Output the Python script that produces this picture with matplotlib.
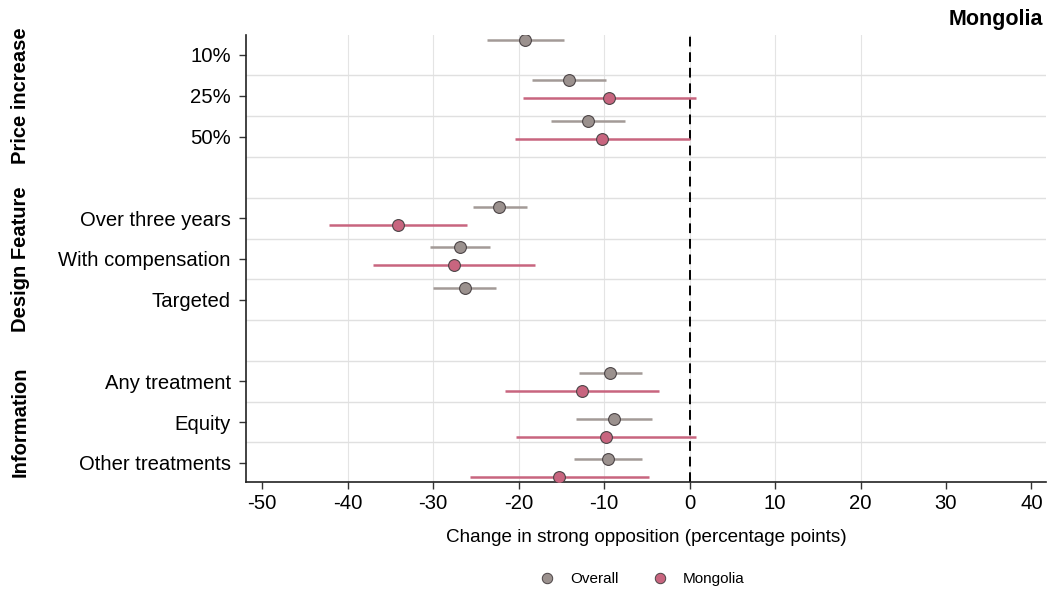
import matplotlib
matplotlib.use("Agg")
import matplotlib.pyplot as plt
from matplotlib.lines import Line2D

plt.rcParams["font.family"] = ["Liberation Sans", "DejaVu Sans"]
plt.rcParams["axes.unicode_minus"] = False

# Treatment rows, top to bottom, with their tick positions (row index)
labels = ["10%", "25%", "50%",
          "Over three years", "With compensation", "Targeted",
          "Any treatment", "Equity", "Other treatments"]
rows = [0, 1, 2, 4, 5, 6, 8, 9, 10]
groups = ["Price increase", "Design Feature", "Information"]
group_rows = [1, 5, 9]

# Overall estimates with 95% CI
overall = [-19.3, -14.1, -11.9, -22.3, -26.9, -26.3, -9.3, -8.8, -9.5]
overall_lo = [-23.7, -18.4, -16.2, -25.4, -30.4, -30.0, -12.9, -13.3, -13.5]
overall_hi = [-14.7, -9.8, -7.5, -19.0, -23.4, -22.7, -5.6, -4.4, -5.6]

# Mongolia estimates (None where not asked)
mongolia = [None, -9.4, -10.2, -34.1, -27.6, None, -12.6, -9.8, -15.3]
mongolia_lo = [None, -19.5, -20.4, -42.2, -37.1, None, -21.6, -20.3, -25.7]
mongolia_hi = [None, 0.8, 0.1, -26.1, -18.1, None, -3.6, 0.7, -4.8]

# vertical nudge of the overall marker above each tick; country sits below it
nudge = [-0.37, -0.39, -0.38, -0.28, -0.30, -0.28, -0.19, -0.08, -0.10]
pair_gap = 0.44

xticks = list(range(-50, 41, 10))

GRAY = "#9b918e"
GRAY_LINE = "#a39a97"
PINK = "#c8657f"
EDGE = "#4b4446"

fig = plt.figure(figsize=(10.5, 5.96), dpi=100)
ax = fig.add_axes([0.2343, 0.1913, 0.7619, 0.75])

for x in xticks[1:-2]:
    ax.axvline(x, color="#e4e4e4", lw=0.8, zorder=0)
for r in range(10):
    ax.axhline(r + 0.5, color="#e0e0e0", lw=1.0, zorder=0)
ax.axvline(0, color="black", lw=1.4, ls=(0, (5, 3)), zorder=1)

for i, r in enumerate(rows):
    y = r + nudge[i]
    ax.plot([overall_lo[i], overall_hi[i]], [y, y], color=GRAY_LINE,
            lw=1.8, solid_capstyle="butt", zorder=2)
    ax.plot(overall[i], y, "o", ms=8.5, mfc=GRAY, mec=EDGE, mew=0.8, zorder=3)
    if mongolia[i] is not None:
        y2 = y + pair_gap
        ax.plot([mongolia_lo[i], mongolia_hi[i]], [y2, y2], color=PINK,
                lw=1.8, solid_capstyle="butt", zorder=2)
        ax.plot(mongolia[i], y2, "o", ms=8.5, mfc=PINK, mec=EDGE, mew=0.8,
                zorder=3)

ax.set_xlim(-51.9, 41.7)
ax.set_ylim(10.47, -0.49)
ax.set_xticks(xticks)
ax.set_yticks(rows)
ax.set_yticklabels(labels)
ax.tick_params(axis="both", labelsize=14.6, length=5, width=1.0, color="#333333")
ax.tick_params(axis="y", pad=6)
ax.tick_params(axis="x", pad=4)
for side in ("top", "right"):
    ax.spines[side].set_visible(False)
for side in ("left", "bottom"):
    ax.spines[side].set_linewidth(1.2)
    ax.spines[side].set_color("#222222")

ax.set_xlabel("Change in strong opposition (percentage points)", fontsize=13.6,
              labelpad=11)

for g, r in zip(groups, group_rows):
    y_fig = ax.transData.transform((0, r))[1]
    fig.text(20 / 1050, fig.transFigure.inverted().transform((0, y_fig))[1],
             g, rotation=90, ha="center", va="center", fontsize=14.5,
             fontweight="bold")

fig.text(1043 / 1050, 1 - 19 / 596, "Mongolia", ha="right", va="center",
         fontsize=15.5, fontweight="bold")

handles = [
    Line2D([], [], ls="none", marker="o", ms=7.5, mfc=GRAY, mec=EDGE, mew=0.7),
    Line2D([], [], ls="none", marker="o", ms=7.5, mfc=PINK, mec=EDGE, mew=0.7),
]
fig.legend(handles, ["Overall", "Mongolia"], loc="center",
           bbox_to_anchor=(638 / 1050, 1 - 579 / 596), ncol=2, frameon=False,
           fontsize=11, handletextpad=0.5, columnspacing=1.7)

fig.savefig("out.png", dpi=100)
